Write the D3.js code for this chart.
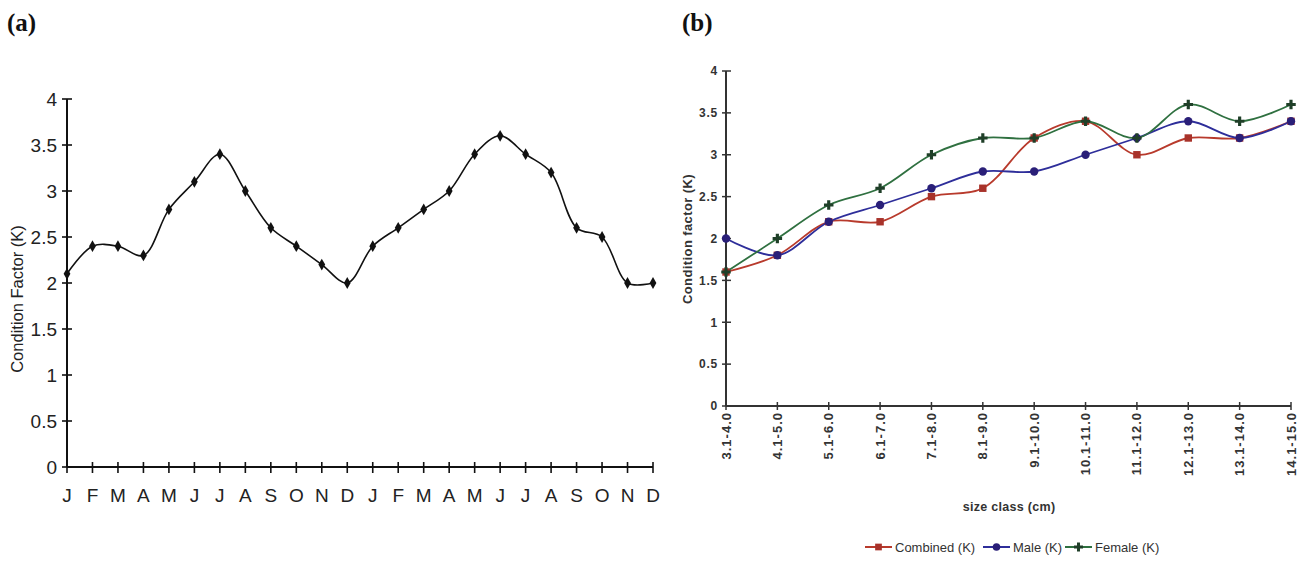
<!DOCTYPE html>
<html><head><meta charset="utf-8">
<script src="https://cdn.jsdelivr.net/npm/d3@7"></script>
<style>
body{margin:0;background:#fff;}
svg{display:block;}
.narrow{font-family:"Liberation Sans Narrow","Arial Narrow","Liberation Sans",Arial,sans-serif;}
.sans{font-family:"Liberation Sans",Arial,sans-serif;}
</style>
</head><body>
<svg id="chart" width="1309" height="561"></svg>
<script>
// ---------- DATA ----------
const months = ["J","F","M","A","M","J","J","A","S","O","N","D","J","F","M","A","M","J","J","A","S","O","N","D"];
const monthlyK = [2.1,2.4,2.4,2.3,2.8,3.1,3.4,3.0,2.6,2.4,2.2,2.0,2.4,2.6,2.8,3.0,3.4,3.6,3.4,3.2,2.6,2.5,2.0,2.0];
const yTicksA = [0,0.5,1,1.5,2,2.5,3,3.5,4];

const sizeClasses = ["3.1-4.0","4.1-5.0","5.1-6.0","6.1-7.0","7.1-8.0","8.1-9.0","9.1-10.0","10.1-11.0","11.1-12.0","12.1-13.0","13.1-14.0","14.1-15.0"];
const combinedK = [1.6,1.8,2.2,2.2,2.5,2.6,3.2,3.4,3.0,3.2,3.2,3.4];
const maleK     = [2.0,1.8,2.2,2.4,2.6,2.8,2.8,3.0,3.2,3.4,3.2,3.4];
const femaleK   = [1.6,2.0,2.4,2.6,3.0,3.2,3.2,3.4,3.2,3.6,3.4,3.6];
const yTicksB = [0,0.5,1,1.5,2,2.5,3,3.5,4];
const seriesNames = ["Combined (K)","Male (K)","Female (K)"];

const svg = d3.select("#chart");

// panel labels
svg.append("text").attr("x",7).attr("y",31).attr("font-family","'Liberation Serif','Times New Roman',serif")
  .attr("font-weight","bold").attr("font-size",25).attr("fill","#111").text("(a)");
svg.append("text").attr("x",682).attr("y",31).attr("font-family","'Liberation Serif','Times New Roman',serif")
  .attr("font-weight","bold").attr("font-size",25).attr("fill","#111").text("(b)");

// ---------- PANEL A ----------
(function(){
  const g = svg.append("g");
  const x = d3.scalePoint().domain(d3.range(months.length)).range([67,653]);
  const y = d3.scaleLinear().domain([0,4]).range([467,99]);

  g.append("line").attr("x1",67).attr("x2",67).attr("y1",y(4)).attr("y2",y(0)).attr("stroke","#111").attr("stroke-width",2);
  g.append("line").attr("x1",67).attr("x2",653).attr("y1",y(0)).attr("y2",y(0)).attr("stroke","#111").attr("stroke-width",2);
  g.selectAll(".yt").data(yTicksA).enter().append("line")
    .attr("x1",62).attr("x2",72).attr("y1",d=>y(d)).attr("y2",d=>y(d)).attr("stroke","#111").attr("stroke-width",1.6);
  g.selectAll(".yl").data(yTicksA).enter().append("text").attr("class","narrow")
    .attr("x",57).attr("y",d=>y(d)).attr("dy","0.36em").attr("text-anchor","end")
    .attr("font-size",19).attr("fill","#222").text(d=>d);
  g.selectAll(".xt").data(d3.range(months.length)).enter().append("line")
    .attr("x1",d=>x(d)).attr("x2",d=>x(d)).attr("y1",y(0)-5).attr("y2",y(0)+6).attr("stroke","#111").attr("stroke-width",1.6);
  g.selectAll(".xl").data(months).enter().append("text").attr("class","narrow")
    .attr("x",(d,i)=>x(i)).attr("y",502).attr("text-anchor","middle")
    .attr("font-size",19).attr("fill","#222").text(d=>d);
  g.append("text").attr("class","narrow").attr("transform","translate(23,299) rotate(-90)")
    .attr("text-anchor","middle").attr("font-size",16.5).attr("fill","#222").text("Condition Factor (K)");

  const line = d3.line().x((d,i)=>x(i)).y(d=>y(d)).curve(d3.curveCatmullRom.alpha(0.5));
  g.append("path").datum(monthlyK).attr("d",line).attr("fill","none").attr("stroke","#111").attr("stroke-width",1.6);
  g.selectAll(".pt").data(monthlyK).enter().append("path")
    .attr("transform",(d,i)=>`translate(${x(i)},${y(d)})`)
    .attr("d",d3.symbol().type(d3.symbolDiamond).size(40)).attr("fill","#111");
})();

// ---------- PANEL B ----------
(function(){
  const g = svg.append("g");
  const x = d3.scalePoint().domain(sizeClasses).range([726,1291]);
  const y = d3.scaleLinear().domain([0,4]).range([406,71]);

  g.append("line").attr("x1",726).attr("x2",726).attr("y1",y(4)).attr("y2",y(0)).attr("stroke","#333").attr("stroke-width",2);
  g.append("line").attr("x1",726).attr("x2",1291).attr("y1",y(0)).attr("y2",y(0)).attr("stroke","#333").attr("stroke-width",2);
  g.selectAll(".yt").data(yTicksB).enter().append("line")
    .attr("x1",722).attr("x2",731).attr("y1",d=>y(d)).attr("y2",d=>y(d)).attr("stroke","#333").attr("stroke-width",1.5);
  g.selectAll(".yl").data(yTicksB).enter().append("text").attr("class","sans")
    .attr("x",718).attr("y",d=>y(d)).attr("dy","0.36em").attr("text-anchor","end")
    .attr("font-size",12).attr("font-weight","bold").attr("letter-spacing",0.8).attr("fill","#333").text(d=>d);
  g.selectAll(".xt").data(sizeClasses).enter().append("line")
    .attr("x1",d=>x(d)).attr("x2",d=>x(d)).attr("y1",y(0)-4).attr("y2",y(0)+4).attr("stroke","#333").attr("stroke-width",1.5);
  g.selectAll(".xl").data(sizeClasses).enter().append("text").attr("class","sans")
    .attr("transform",d=>`translate(${x(d)+4.5},412) rotate(-90)`).attr("text-anchor","end")
    .attr("font-size",13).attr("font-weight","bold").attr("letter-spacing",1).attr("fill","#333").text(d=>d);
  g.append("text").attr("class","sans").attr("transform","translate(692,239) rotate(-90)")
    .attr("text-anchor","middle").attr("font-size",13).attr("font-weight","bold").attr("letter-spacing",0.4).attr("fill","#333").text("Condition factor (K)");
  g.append("text").attr("class","sans").attr("x",1009).attr("y",511).attr("text-anchor","middle")
    .attr("font-size",12.5).attr("font-weight","bold").attr("letter-spacing",0.3).attr("fill","#333").text("size class (cm)");

  const series = [
    {name:seriesNames[0], values:combinedK, color:"#b83a2c", mfill:"#a8322a", sym:d3.symbolSquare, size:55},
    {name:seriesNames[1], values:maleK, color:"#2e2e9a", mfill:"#2a1f78", sym:d3.symbolCircle, size:55},
    {name:seriesNames[2], values:femaleK, color:"#2f7040", mfill:"#1f3f28", sym:d3.symbolCross, size:50}
  ];
  const line = d3.line().x((d,i)=>x(sizeClasses[i])).y(d=>y(d)).curve(d3.curveCatmullRom.alpha(0.5));
  series.forEach(s=>{
    g.append("path").datum(s.values).attr("d",line).attr("fill","none").attr("stroke",s.color).attr("stroke-width",1.8);
  });
  series.forEach(s=>{
    g.selectAll(null).data(s.values).enter().append("path")
      .attr("transform",(d,i)=>`translate(${x(sizeClasses[i])},${y(d)})`)
      .attr("d",d3.symbol().type(s.sym).size(s.size)).attr("fill",s.mfill);
  });

  // legend
  const legX = [865,983,1065];
  series.forEach((s,i)=>{
    const lg = g.append("g").attr("transform",`translate(${legX[i]},547)`);
    lg.append("line").attr("x1",0).attr("x2",27).attr("y1",0).attr("y2",0).attr("stroke",s.color).attr("stroke-width",2);
    lg.append("path").attr("transform","translate(13.5,0)").attr("d",d3.symbol().type(s.sym).size(45)).attr("fill",s.mfill);
    lg.append("text").attr("class","sans").attr("x",30).attr("y",0).attr("dy","0.36em")
      .attr("font-size",13).attr("fill","#333").text(s.name);
  });
})();
</script>
</body></html>
